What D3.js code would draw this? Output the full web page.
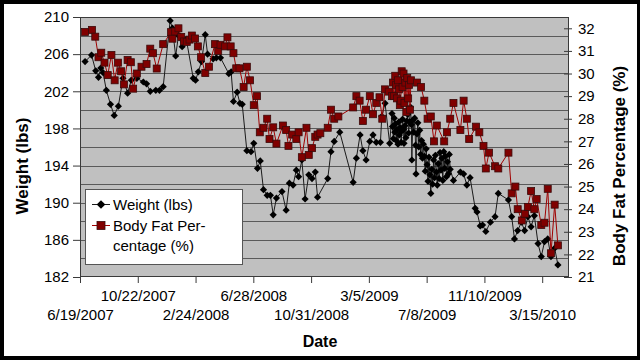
<!DOCTYPE html>
<html><head><meta charset="utf-8">
<script src="https://cdn.jsdelivr.net/npm/d3@7"></script>
<style>html,body{margin:0;padding:0;background:#000}svg{display:block}</style>
</head><body>
<svg id="chart" width="640" height="360"></svg>
<script>
// ---------- data ----------
const weightDates = [
"2007-06-30","2007-07-14","2007-07-23","2007-07-29","2007-08-03","2007-08-08","2007-08-15","2007-08-24","2007-09-01","2007-09-10",
"2007-09-20","2007-09-30","2007-10-08","2007-10-20","2007-11-03","2007-11-10","2007-11-18","2007-11-30","2007-12-08","2007-12-16",
"2007-12-31","2008-01-05","2008-01-12","2008-01-18","2008-01-26","2008-02-04","2008-02-19","2008-02-24","2008-03-01","2008-03-08",
"2008-03-16","2008-03-21","2008-04-02","2008-04-09","2008-04-18","2008-05-06","2008-05-11","2008-05-16","2008-05-24","2008-05-30",
"2008-06-04","2008-06-14","2008-06-23","2008-06-29","2008-07-07","2008-07-13","2008-07-20","2008-07-28","2008-08-04","2008-08-10",
"2008-08-17","2008-08-29","2008-09-07","2008-09-14","2008-09-22","2008-09-29","2008-10-04","2008-10-11","2008-10-18","2008-10-26",
"2008-11-02","2008-11-09","2008-11-14","2008-12-06","2008-12-13","2008-12-20","2009-01-01","2009-01-30","2009-02-06","2009-02-14",
"2009-02-20","2009-02-27","2009-03-07","2009-03-14","2009-03-21","2009-03-30","2009-04-02","2009-04-09","2009-04-19","2009-04-24",
"2009-04-25","2009-04-27","2009-04-29","2009-04-30","2009-05-02","2009-05-03","2009-05-05","2009-05-07","2009-05-09","2009-05-10",
"2009-05-12","2009-05-14","2009-05-15","2009-05-17","2009-05-19","2009-05-20","2009-05-22","2009-05-24","2009-05-26","2009-05-28",
"2009-05-30","2009-06-01","2009-06-03","2009-06-05","2009-06-06","2009-06-08","2009-06-10","2009-06-12","2009-06-14","2009-06-15",
"2009-06-17","2009-06-19","2009-06-21","2009-06-23","2009-06-25","2009-06-27","2009-06-29","2009-07-01","2009-07-03","2009-07-05",
"2009-07-07","2009-07-09","2009-07-11","2009-07-13","2009-07-15","2009-07-17","2009-07-19","2009-07-21","2009-07-23","2009-07-25",
"2009-07-27","2009-07-29","2009-07-31","2009-08-02","2009-08-04","2009-08-06","2009-08-08","2009-08-10","2009-08-12","2009-08-14",
"2009-08-16","2009-08-18","2009-08-20","2009-08-22","2009-08-24","2009-08-26","2009-08-28","2009-09-04","2009-09-19","2009-09-26",
"2009-10-03","2009-10-10","2009-10-21","2009-10-25","2009-11-01","2009-11-06","2009-11-13","2009-11-23","2009-12-03","2009-12-10",
"2010-01-01","2010-01-08","2010-01-14","2010-01-21","2010-01-29","2010-02-05","2010-02-12","2010-02-19","2010-02-26","2010-03-06",
"2010-03-13","2010-03-20","2010-03-27","2010-04-03","2010-04-11","2010-04-18"];
const weightValues = [
205.2,205.9,204.2,203.5,204.5,204.0,202.1,200.6,199.4,200.4,
203.4,201.8,203.2,203.4,203.0,202.8,202.0,202.1,202.1,202.5,
209.6,208.8,205.8,208.0,206.8,207.6,203.4,203.2,204.1,205.2,
208.1,206.0,205.5,205.6,205.6,203.9,204.1,200.9,201.9,200.7,
200.6,195.6,195.5,196.4,193.7,194.5,191.4,190.8,190.8,188.7,
190.5,191.2,189.2,192.1,191.9,193.5,192.8,194.6,190.4,193.0,
192.6,193.3,190.6,192.6,195.5,196.6,197.6,192.2,194.8,197.3,
195.6,194.6,196.6,197.3,196.5,196.5,199.3,200.7,196.4,199.6,
198.2,196.9,199.1,197.6,198.5,196.7,197.9,196.3,198.7,197.3,
198.1,196.5,197.7,199.0,197.9,196.4,198.3,197.0,198.8,199.5,
197.5,198.7,200.3,198.4,194.6,198.9,197.6,199.1,196.2,193.1,
197.4,198.6,196.0,197.8,195.2,196.7,194.8,196.3,195.0,193.4,
195.8,194.1,192.3,194.9,193.0,191.0,193.6,192.0,194.6,192.7,
195.1,193.3,191.9,194.2,192.6,195.4,193.5,194.8,192.4,195.5,
193.7,195.0,192.8,194.4,193.1,195.2,193.6,192.4,193.3,193.1,
191.9,192.7,189.4,189.0,187.5,187.6,186.9,187.9,188.5,191.0,
190.3,188.5,186.1,187.0,187.9,187.0,188.5,187.4,188.6,185.6,
184.2,185.8,186.1,184.2,185.1,183.3];

const fatDates = [
"2007-06-30","2007-07-15","2007-07-22","2007-07-29","2007-08-04","2007-08-11","2007-08-18","2007-08-26","2007-09-02","2007-09-09",
"2007-09-16","2007-09-22","2007-09-30","2007-10-07","2007-10-12","2007-10-20","2007-10-30","2007-11-10","2007-11-18","2007-11-24",
"2007-12-02","2007-12-16","2008-01-02","2008-01-05","2008-01-11","2008-01-18","2008-01-24","2008-01-30","2008-02-05","2008-02-11",
"2008-02-16","2008-02-23","2008-02-29","2008-03-07","2008-03-16","2008-03-24","2008-04-06","2008-04-13","2008-04-18","2008-04-28",
"2008-05-03","2008-05-10","2008-05-16","2008-05-22","2008-05-29","2008-06-07","2008-06-14","2008-06-21","2008-06-29","2008-07-06",
"2008-07-12","2008-07-20","2008-07-28","2008-08-02","2008-08-10","2008-08-17","2008-08-31","2008-09-07","2008-09-12","2008-09-20",
"2008-09-29","2008-10-04","2008-10-11","2008-10-21","2008-10-26","2008-11-02","2008-11-09","2008-11-14","2008-11-20","2008-12-06",
"2008-12-13","2008-12-20","2008-12-29","2009-01-30","2009-02-06","2009-02-13","2009-02-20","2009-02-27","2009-03-07","2009-03-14",
"2009-03-21","2009-03-28","2009-04-03","2009-04-09","2009-04-17","2009-04-24","2009-04-26","2009-04-28","2009-05-01","2009-05-03",
"2009-05-05","2009-05-07","2009-05-09","2009-05-11","2009-05-13","2009-05-15","2009-05-17","2009-05-19","2009-05-21","2009-05-23",
"2009-05-25","2009-05-27","2009-05-29","2009-05-31","2009-06-02","2009-06-04","2009-06-17","2009-06-26","2009-07-03","2009-07-10",
"2009-07-17","2009-07-24","2009-07-30","2009-08-15","2009-08-21","2009-08-28","2009-09-04","2009-09-19","2009-09-26","2009-10-03",
"2009-10-08","2009-10-23","2009-10-30","2009-11-08","2009-11-13","2009-11-20","2009-12-03","2009-12-10","2010-01-01","2010-01-08",
"2010-01-16","2010-01-21","2010-01-30","2010-02-06","2010-02-12","2010-02-19","2010-02-26","2010-03-03","2010-03-13","2010-03-20",
"2010-03-27","2010-04-03","2010-04-11","2010-04-18"];
const fatValues = [
31.84,31.93,31.63,30.72,30.92,30.48,29.93,30.82,29.70,30.48,
30.10,29.52,30.60,30.50,29.33,30.00,30.30,30.42,31.10,30.90,
30.22,31.30,31.83,31.54,31.86,32.00,31.62,31.42,31.40,31.50,
31.68,31.55,31.20,30.72,30.02,30.30,31.30,31.00,31.27,31.20,
31.60,31.20,30.90,30.23,30.23,29.40,30.30,29.70,28.60,29.00,
27.40,27.60,28.00,27.10,27.62,26.90,27.70,27.50,26.80,27.30,
27.10,27.40,26.30,27.60,26.40,26.70,27.20,27.30,27.36,27.60,
28.40,28.00,28.10,28.50,29.00,28.80,27.90,28.40,29.00,28.20,
28.70,28.95,28.00,29.30,29.20,29.00,29.60,29.00,29.90,29.50,
28.90,29.70,29.30,28.60,28.80,30.10,29.40,30.00,28.70,29.60,
28.30,29.80,28.90,29.50,28.40,29.70,29.60,29.40,28.80,28.00,
28.10,27.00,27.70,27.00,27.40,28.00,28.70,27.50,28.80,28.00,
27.10,27.65,27.40,26.80,25.80,26.50,25.90,25.80,26.50,24.70,
25.00,24.00,23.50,23.80,24.10,24.80,24.00,24.45,23.30,23.40,
24.90,22.05,24.20,22.40];

const weightTicks = [182,186,190,194,198,202,206,210];
const fatTicks = [21,22,23,24,25,26,27,28,29,30,31,32];
const dateTickLabels = ["6/19/2007","10/22/2007","2/24/2008","6/28/2008","10/31/2008","3/5/2009","7/8/2009","11/10/2009","3/15/2010"];
const seriesNames = ["Weight (lbs)", "Body Fat Per-", "centage (%)"];

// ---------- layout ----------
const W = 640, H = 360;
const P = {left: 80, right: 569, top: 17, bottom: 277};
const FONT = "'Liberation Sans', Arial, sans-serif";

const parse = d3.utcParse("%Y-%m-%d");
const parseMDY = d3.utcParse("%m/%d/%Y");
const fmt = d3.utcFormat("%-m/%-d/%Y");

const x = d3.scaleUtc()
  .domain([parse("2007-06-19"), parse("2010-05-12")])
  .range([P.left, P.right]);
const yW = d3.scaleLinear().domain([182, 210]).range([P.bottom, P.top]);
const yF = d3.scaleLinear().domain([21, 32.5]).range([P.bottom, P.top]);

const weight = weightDates.map((d, i) => ({date: parse(d), v: weightValues[i]}));
const fat = fatDates.map((d, i) => ({date: parse(d), v: fatValues[i]}));

const svg = d3.select("#chart");
// black frame + white page
svg.append("rect").attr("x", 0).attr("y", 0).attr("width", W).attr("height", H).attr("fill", "#000");
svg.append("rect").attr("x", 4).attr("y", 4).attr("width", 633).attr("height", 352).attr("fill", "#fff");

// plot area
svg.append("rect").attr("x", P.left).attr("y", P.top)
  .attr("width", P.right - P.left).attr("height", P.bottom - P.top)
  .attr("fill", "#c0c0c0");

// gridlines every 2 lbs
const grid = d3.range(184, 210, 2);
svg.append("g").selectAll("line").data(grid).join("line")
  .attr("x1", P.left).attr("x2", P.right)
  .attr("y1", d => Math.round(yW(d)) + 0.5).attr("y2", d => Math.round(yW(d)) + 0.5)
  .attr("stroke", "#5a5a5a").attr("stroke-width", 1);

svg.append("rect").attr("x", P.left + 0.5).attr("y", P.top + 0.5)
  .attr("width", P.right - P.left - 1).attr("height", P.bottom - P.top - 1)
  .attr("fill", "none").attr("stroke", "#3a3a3a").attr("stroke-width", 1);

// left axis
const axL = d3.axisLeft(yW).tickValues(weightTicks).tickSize(7).tickPadding(4).tickFormat(d3.format("d"));
const gL = svg.append("g").attr("transform", `translate(${P.left},0)`).call(axL);
// right axis
const axR = d3.axisRight(yF).tickValues(fatTicks).tickSize(3).tickPadding(6).tickFormat(d3.format("d"));
const gR = svg.append("g").attr("transform", `translate(${P.right},0)`).call(axR);
gR.selectAll(".tick line").attr("x1", -5).attr("x2", 3);
// bottom axis
const dateTicks = dateTickLabels.map(s => parseMDY(s));
const axB = d3.axisBottom(x).tickValues(dateTicks).tickSize(6).tickFormat(fmt);
const gB = svg.append("g").attr("transform", `translate(0,${P.bottom})`).call(axB);
gB.selectAll(".tick text").attr("dy", null)
  .attr("y", (d, i) => i % 2 === 1 ? 24 : 43);

[gL, gR, gB].forEach(g => {
  g.select(".domain").attr("stroke", "#3a3a3a");
  g.selectAll(".tick line").attr("stroke", "#3a3a3a");
  g.selectAll(".tick text").attr("font-family", FONT).attr("font-size", 15).attr("fill", "#000");
});
gL.select(".domain").remove();
gR.select(".domain").remove();
gB.select(".domain").remove();

// series lines
const lineW = d3.line().x(d => x(d.date)).y(d => yW(d.v));
const lineF = d3.line().x(d => x(d.date)).y(d => yF(d.v));
const diamond = "M0,-3.6L3.6,0L0,3.6L-3.6,0Z";

svg.append("path").datum(weight).attr("d", lineW)
  .attr("fill", "none").attr("stroke", "#1a1a1a").attr("stroke-width", 1);
svg.append("g").selectAll("path").data(weight).join("path")
  .attr("d", diamond)
  .attr("transform", d => `translate(${x(d.date)},${yW(d.v)})`)
  .attr("fill", "#000");

svg.append("path").datum(fat).attr("d", lineF)
  .attr("fill", "none").attr("stroke", "#a00000").attr("stroke-width", 1);
svg.append("g").selectAll("rect").data(fat).join("rect")
  .attr("x", d => x(d.date) - 3.5).attr("y", d => yF(d.v) - 3.5)
  .attr("width", 7).attr("height", 7)
  .attr("fill", "#800000").attr("stroke", "#3a0a0a").attr("stroke-width", 0.8);

// axis titles
svg.append("text").attr("transform", "translate(28,166) rotate(-90)")
  .attr("text-anchor", "middle").attr("font-family", FONT).attr("font-weight", "bold")
  .attr("font-size", 17).text("Weight (lbs)");
svg.append("text").attr("transform", "translate(625,166) rotate(-90)")
  .attr("text-anchor", "middle").attr("font-family", FONT).attr("font-weight", "bold")
  .attr("font-size", 17).text("Body Fat Percentage (%)");
svg.append("text").attr("x", 320).attr("y", 347)
  .attr("text-anchor", "middle").attr("font-family", FONT).attr("font-weight", "bold")
  .attr("font-size", 16).text("Date");

// legend
const lg = svg.append("g");
lg.append("rect").attr("x", 85.5).attr("y", 189.5).attr("width", 157).attr("height", 75)
  .attr("fill", "#fff").attr("stroke", "#555");
lg.append("line").attr("x1", 92).attr("x2", 110).attr("y1", 204.5).attr("y2", 204.5)
  .attr("stroke", "#1a1a1a");
lg.append("path").attr("d", diamond).attr("transform", "translate(101,204.5) scale(1.2)").attr("fill", "#000");
lg.append("line").attr("x1", 92).attr("x2", 110).attr("y1", 225.5).attr("y2", 225.5)
  .attr("stroke", "#a00000");
lg.append("rect").attr("x", 97).attr("y", 221.5).attr("width", 8).attr("height", 8)
  .attr("fill", "#800000").attr("stroke", "#3a0a0a").attr("stroke-width", 0.8);
lg.selectAll("text").data(seriesNames).join("text")
  .attr("x", 113).attr("y", (d, i) => [210, 231, 251][i])
  .attr("font-family", FONT).attr("font-size", 15).text(d => d);
</script>
</body></html>
